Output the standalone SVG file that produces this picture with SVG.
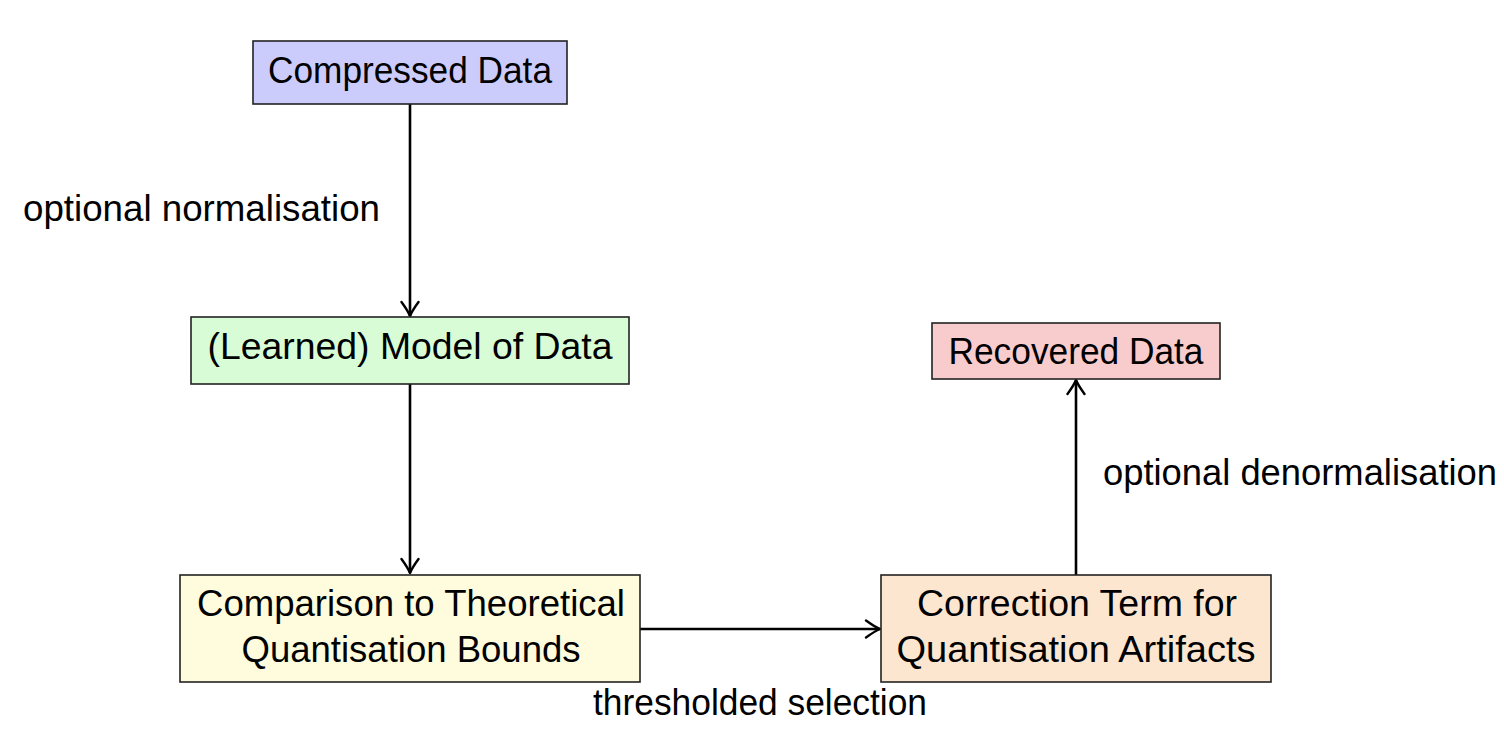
<svg xmlns="http://www.w3.org/2000/svg" width="1504" height="750" viewBox="0 0 1504 750">
<defs>
<style>
.box{stroke:#222;stroke-width:1.6}
.t{font-family:"Liberation Sans",Arial,sans-serif;font-size:36px;fill:#000;text-anchor:middle}
.lbl{font-family:"Liberation Sans",Arial,sans-serif;font-size:36px;fill:#000}
.edge{stroke:#000;stroke-width:2.6;fill:none}
</style>
<marker id="arr" markerUnits="userSpaceOnUse" viewBox="-17 -10 19 20" markerWidth="19" markerHeight="20" refX="0" refY="0" orient="auto">
<path d="M-14,-8.5 Q-5,-2 0,0 Q-5,2 -14,8.5" fill="none" stroke="#000" stroke-width="2.4" stroke-linecap="round" stroke-linejoin="round"/>
</marker>
</defs>
<rect width="1504" height="750" fill="#fff"/>
<g id="connectors">
<line class="edge" x1="410" y1="104" x2="410" y2="316" marker-end="url(#arr)"/>
<line class="edge" x1="410" y1="384" x2="410" y2="573" marker-end="url(#arr)"/>
<line class="edge" x1="640" y1="629" x2="880" y2="629" marker-end="url(#arr)"/>
<line class="edge" x1="1076" y1="575" x2="1076" y2="380" marker-end="url(#arr)"/>
<text class="lbl" x="23" y="221" textLength="357" lengthAdjust="spacingAndGlyphs">optional normalisation</text>
<text class="lbl" x="1103" y="485" textLength="394" lengthAdjust="spacingAndGlyphs">optional denormalisation</text>
<text class="lbl" x="593" y="715" textLength="334" lengthAdjust="spacingAndGlyphs">thresholded selection</text>
</g>
<g id="compressed">
<rect class="box" x="253" y="41" width="314" height="63" fill="#ccccfc"/>
<text class="t" x="410" y="83" textLength="284" lengthAdjust="spacingAndGlyphs">Compressed Data</text>
</g>
<g id="model">
<rect class="box" x="191" y="317" width="438" height="67" fill="#d8fdd6"/>
<text class="t" x="410" y="359" textLength="405" lengthAdjust="spacingAndGlyphs">(Learned) Model of Data</text>
</g>
<g id="comparison">
<rect class="box" x="180" y="575" width="460" height="107" fill="#fefcdc"/>
<text class="t" x="411" y="616" textLength="428" lengthAdjust="spacingAndGlyphs">Comparison to Theoretical</text>
<text class="t" x="411" y="662" textLength="339" lengthAdjust="spacingAndGlyphs">Quantisation Bounds</text>
</g>
<g id="correction">
<rect class="box" x="881" y="575" width="390" height="107" fill="#fce6d0"/>
<text class="t" x="1077" y="616" textLength="320" lengthAdjust="spacingAndGlyphs">Correction Term for</text>
<text class="t" x="1076" y="662" textLength="359" lengthAdjust="spacingAndGlyphs">Quantisation Artifacts</text>
</g>
<g id="recovered">
<rect class="box" x="932" y="323" width="288" height="56" fill="#f8cccc"/>
<text class="t" x="1076" y="364" textLength="255" lengthAdjust="spacingAndGlyphs">Recovered Data</text>
</g>
</svg>
